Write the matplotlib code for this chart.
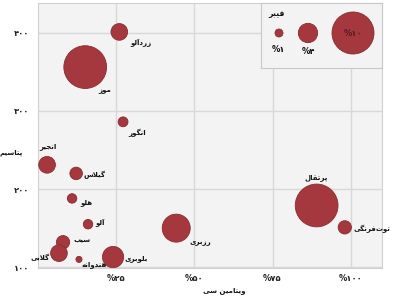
import matplotlib
matplotlib.use("Agg")
import matplotlib.pyplot as plt

# --------------------- Data ---------------------
fruits = ["زردآلو", "موز", "انگور", "انجیر", "گیلاس", "هلو", "آلو",
          "سیب", "گلابی", "هندوانه", "بلوبری", "رزبری", "پرتقال", "توت\u200cفرنگی"]
vitamin_c = [26.0, 15.1, 27.2, 2.9, 12.2, 10.9, 16.0, 8.0, 6.7, 13.1, 24.0, 44.2, 89.1, 98.1]
potassium = [401, 356, 286, 231, 220, 188, 155, 132, 118, 110, 113, 150, 179, 151]
fiber = [3.3, 10.2, 1.5, 3.3, 2.2, 1.4, 1.4, 2.4, 3.3, 0.5, 4.5, 6.3, 10.2, 2.4]

x_ticks = [25, 50, 75, 100]
x_tick_labels = ["%۲۵", "%۵۰", "%۷۵", "%۱۰۰"]
y_ticks = [100, 200, 300, 400]
y_tick_labels = ["۱۰۰", "۲۰۰", "۳۰۰", "۴۰۰"]
legend_values = [1, 4, 10]
legend_labels = ["%۱", "%۴", "%۱۰"]

# label placement (pixel offsets from bubble centre, alignment)
label_pos = [(11, 11, "left"), (13, 24, "left"), (5, 11, "left"), (1, -18, "center"),
             (7, 1, "left"), (8, 4, "left"), (7, -1, "left"), (10, -2, "left"),
             (-9, 4, "right"), (3, 5, "left"), (11, 1, "left"), (13, 15, "left"),
             (0, -28, "center"), (9, 1, "left")]

FILL = "#a5383e"
EDGE = "#8a2c32"
TXT = "#111111"

# --------------------- Arabic shaping helper ---------------------
# (isolated, final, initial, medial)
FORMS = {
    "ا": ("\uFE8D", "\uFE8E", None, None),
    "آ": ("\uFE81", "\uFE82", None, None),
    "ب": ("\uFE8F", "\uFE90", "\uFE91", "\uFE92"),
    "پ": ("\uFB56", "\uFB57", "\uFB58", "\uFB59"),
    "ت": ("\uFE95", "\uFE96", "\uFE97", "\uFE98"),
    "ج": ("\uFE9D", "\uFE9E", "\uFE9F", "\uFEA0"),
    "د": ("\uFEA9", "\uFEAA", None, None),
    "ر": ("\uFEAD", "\uFEAE", None, None),
    "ز": ("\uFEAF", "\uFEB0", None, None),
    "س": ("\uFEB1", "\uFEB2", "\uFEB3", "\uFEB4"),
    "ف": ("\uFED1", "\uFED2", "\uFED3", "\uFED4"),
    "ق": ("\uFED5", "\uFED6", "\uFED7", "\uFED8"),
    "گ": ("\uFB92", "\uFB93", "\uFB94", "\uFB95"),
    "ل": ("\uFEDD", "\uFEDE", "\uFEDF", "\uFEE0"),
    "م": ("\uFEE1", "\uFEE2", "\uFEE3", "\uFEE4"),
    "ن": ("\uFEE5", "\uFEE6", "\uFEE7", "\uFEE8"),
    "ه": ("\uFEE9", "\uFEEA", "\uFEEB", "\uFEEC"),
    "و": ("\uFEED", "\uFEEE", None, None),
    "ی": ("\uFBFC", "\uFBFD", "\uFBFE", "\uFBFF"),
}
LAM_ALEF = {"ا": ("\uFEFB", "\uFEFC"), "آ": ("\uFEF5", "\uFEF6")}


def shape(s):
    out = []
    i = 0
    n = len(s)
    while i < n:
        c = s[i]
        if c not in FORMS:
            if c != "\u200c":
                out.append(c)
            i += 1
            continue
        prev = s[i - 1] if i > 0 else ""
        join_prev = prev in FORMS and FORMS[prev][2] is not None
        if c == "ل" and i + 1 < n and s[i + 1] in LAM_ALEF:
            out.append(LAM_ALEF[s[i + 1]][1 if join_prev else 0])
            i += 2
            continue
        nxt = s[i + 1] if i + 1 < n else ""
        join_next = FORMS[c][2] is not None and nxt in FORMS
        iso, fin, ini, med = FORMS[c]
        if join_prev and join_next:
            out.append(med)
        elif join_prev:
            out.append(fin)
        elif join_next:
            out.append(ini)
        else:
            out.append(iso)
        i += 1
    return "".join(reversed(out))


def bubble_area(f):
    r_px = 2.1 + 1.89 * f
    return (2 * r_px * 0.72) ** 2


# --------------------- Plot ---------------------
plt.rcParams["font.family"] = ["DejaVu Sans"]

fig = plt.figure(figsize=(4, 3), dpi=100)
fig.patch.set_facecolor("white")
ax = fig.add_axes([38 / 400, 1 - 268 / 300, 344 / 400, 265 / 300])
ax.set_facecolor("#f3f3f3")

ax.scatter(vitamin_c, potassium, s=[bubble_area(f) for f in fiber],
           color=FILL, edgecolor=EDGE, linewidth=0.6, zorder=3)

for name, x, y, (dx, dy, ha) in zip(fruits, vitamin_c, potassium, label_pos):
    ax.annotate(shape(name), (x, y), xytext=(dx * 0.72, -dy * 0.72),
                textcoords="offset points", ha=ha, va="center",
                fontsize=5, fontweight="bold", color=TXT,
                zorder=4, annotation_clip=False)

ax.set_xlim(0, 110)
ax.set_ylim(99, 438)
ax.set_xticks(x_ticks)
ax.set_xticklabels(x_tick_labels)
ax.set_yticks(y_ticks)
ax.set_yticklabels(y_tick_labels)
ax.tick_params(length=0, labelsize=6, colors="#222222")
ax.tick_params(axis="x", pad=4)
ax.tick_params(axis="y", pad=6)
for lbl in ax.get_xticklabels() + ax.get_yticklabels():
    lbl.set_fontweight("bold")
ax.grid(True, color="#d8d8d8", linewidth=1)
ax.set_axisbelow(True)
for sp in ax.spines.values():
    sp.set_color("#d0d0d0")

fig.text(224 / 400, 1 - 291 / 300, shape("ویتامین سی"), ha="center", va="center",
         fontsize=5, fontweight="bold", color=TXT)
fig.text(11 / 400, 1 - 153 / 300, shape("پتاسیم"), ha="center", va="center",
         fontsize=5, fontweight="bold", color=TXT)

# legend box, drawn in its own pixel-based axes
lax = fig.add_axes([261 / 400, 1 - 68 / 300, 121 / 400, 65 / 300])
lax.set_xlim(0, 121)
lax.set_ylim(65, 0)
lax.set_facecolor("#f3f3f3")
lax.set_xticks([])
lax.set_yticks([])
for sp in lax.spines.values():
    sp.set_color("#c8c8c8")
lax.text(7, 11, shape("فیبر"), ha="left", va="center",
         fontsize=5.5, fontweight="bold", color=TXT)
leg_x = [18, 47, 92]
lax.scatter(leg_x, [30] * 3, s=[bubble_area(v) for v in legend_values],
            color=FILL, edgecolor=EDGE, linewidth=0.6, zorder=3, clip_on=False)
lax.text(leg_x[0], 47, legend_labels[0], ha="center", va="center",
         fontsize=6, fontweight="bold", color=TXT)
lax.text(leg_x[1], 48, legend_labels[1], ha="center", va="center",
         fontsize=6, fontweight="bold", color=TXT)
lax.text(leg_x[2], 30, legend_labels[2], ha="center", va="center",
         fontsize=6, fontweight="bold", color="#5a1a1e", zorder=4)

fig.savefig("out.png", dpi=100)
